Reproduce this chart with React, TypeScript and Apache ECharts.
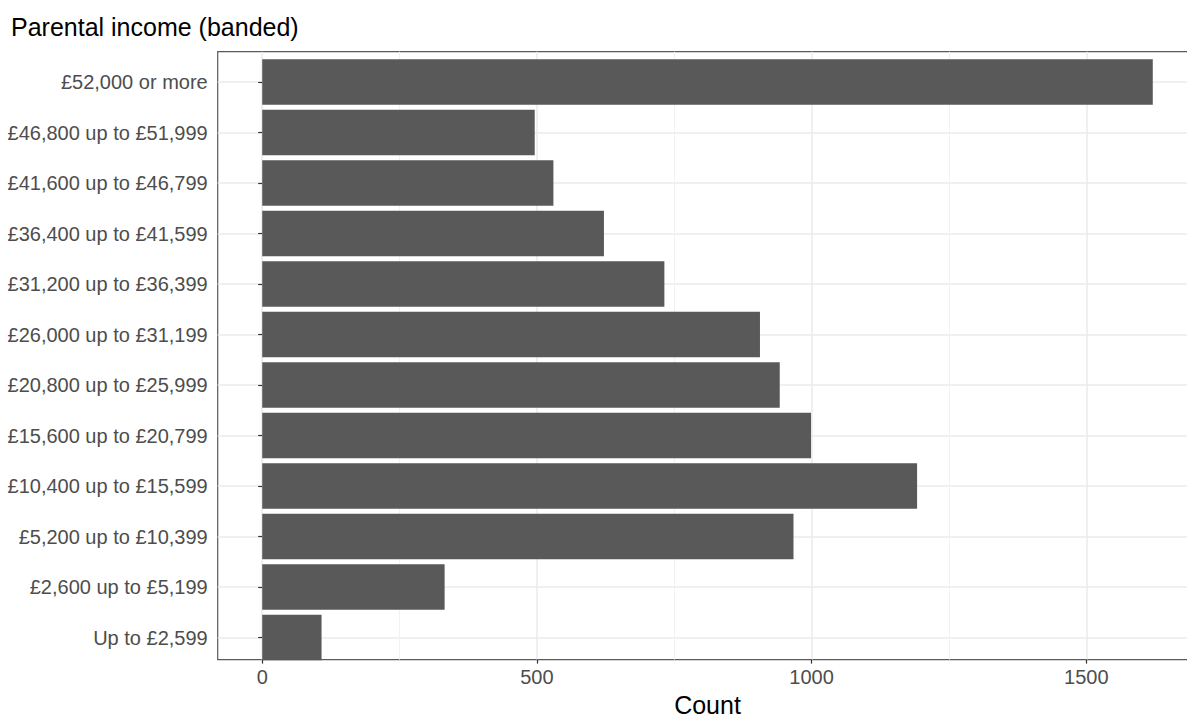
import React, { useEffect, useRef } from "react";
import * as echarts from "echarts";

const categories = [
  "Up to £2,599",
  "£2,600 up to £5,199",
  "£5,200 up to £10,399",
  "£10,400 up to £15,599",
  "£15,600 up to £20,799",
  "£20,800 up to £25,999",
  "£26,000 up to £31,199",
  "£31,200 up to £36,399",
  "£36,400 up to £41,599",
  "£41,600 up to £46,799",
  "£46,800 up to £51,999",
  "£52,000 or more",
];
const counts = [108, 332, 967, 1192, 999, 942, 906, 732, 622, 530, 496, 1621];
const majorTicks = [0, 500, 1000, 1500];
const minorTicks = [250, 750, 1250];
const title = "Parental income (banded)";
const xTitle = "Count";

const FONT = "'Liberation Sans', Arial, Helvetica, sans-serif";

export default function App() {
  const ref = useRef<HTMLDivElement>(null);
  useEffect(() => {
    if (!ref.current) return;
    const chart = echarts.init(ref.current, null, { renderer: "svg" });
    const maxV = Math.max(...counts);
    const xMin = -0.05 * maxV;
    const xMax = 1.05 * maxV;
    const panel = { left: 217.7, top: 51.7, right: 0.7, bottom: 54.3 };
    const barGrid = { left: 217.7, top: 56.75, right: 0.7, bottom: 59.25 };
    chart.setOption({
      animation: false,
      backgroundColor: "#ffffff",
      textStyle: { fontFamily: FONT },
      title: {
        text: title,
        left: 11,
        top: 14,
        padding: 0,
        textStyle: { fontFamily: FONT, fontSize: 25, fontWeight: "normal", color: "#000000" },
      },
      grid: [
        { ...panel, show: true, backgroundColor: "transparent", borderColor: "#5a5a5a", borderWidth: 1.2, containLabel: false },
        { ...barGrid, show: false, containLabel: false },
      ],
      xAxis: [
        {
          type: "value",
          gridIndex: 0,
          min: xMin,
          max: xMax,
          position: "bottom",
          name: xTitle,
          nameLocation: "middle",
          nameGap: 43,
          nameTextStyle: { fontFamily: FONT, fontSize: 25, lineHeight: 25, color: "#000000", verticalAlign: "middle" },
          axisLine: { show: false },
          axisTick: { show: true, length: 4, customValues: majorTicks, lineStyle: { color: "#333333", width: 1.2 } },
          axisLabel: {
            show: true,
            customValues: majorTicks,
            fontFamily: FONT,
            fontSize: 20,
            lineHeight: 20,
            verticalAlign: "top",
            color: "#4d4d4d",
            margin: 7.5,
            formatter: (v: number) => String(v),
          },
          splitLine: { show: true, lineStyle: { color: "#ebebeb", width: 1.5 } },
        },
        {
          type: "value",
          gridIndex: 0,
          min: xMin,
          max: xMax,
          position: "top",
          axisLine: { show: false },
          axisTick: { show: false, customValues: minorTicks },
          axisLabel: { show: false },
          splitLine: { show: true, lineStyle: { color: "#f2f2f2", width: 1 } },
        },
        {
          type: "value",
          gridIndex: 1,
          min: xMin,
          max: xMax,
          show: false,
          splitLine: { show: false },
        },
      ],
      yAxis: [
        {
          type: "category",
          gridIndex: 0,
          data: categories,
          show: false,
        },
        {
          type: "category",
          gridIndex: 1,
          data: categories,
          axisLine: { show: false },
          axisTick: { show: true, alignWithLabel: true, length: 4, lineStyle: { color: "#333333", width: 1.2 } },
          axisLabel: { show: true, fontFamily: FONT, fontSize: 20, color: "#4d4d4d", margin: 10, interval: 0 },
          splitLine: { show: true, alignWithLabel: true, lineStyle: { color: "#ebebeb", width: 1.5 } },
        },
      ],
      series: [
        {
          type: "bar",
          xAxisIndex: 2,
          yAxisIndex: 1,
          data: counts,
          barWidth: 45.4,
          itemStyle: { color: "#595959" },
          silent: true,
        },
      ],
    });
    return () => chart.dispose();
  }, []);
  return (
    <div style={{ position: "absolute", left: 0, top: 0, width: 1187, height: 722, overflow: "hidden" }}>
      <div ref={ref} style={{ width: 1198, height: 722 }} />
    </div>
  );
}
